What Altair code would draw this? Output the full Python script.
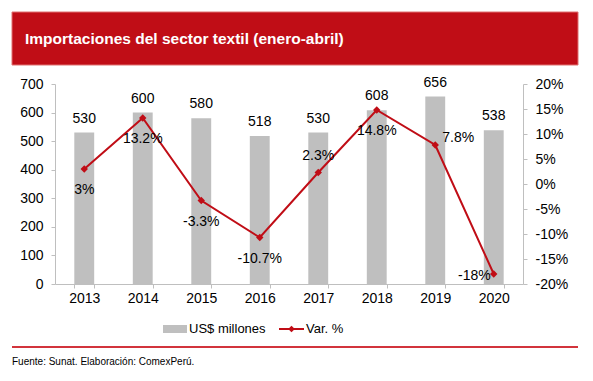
import altair as alt
import pandas as pd

years = ["2013", "2014", "2015", "2016", "2017", "2018", "2019", "2020"]
imports_musd = [530, 600, 580, 518, 530, 608, 656, 538]
var_pct = [3, 13.2, -3.3, -10.7, 2.3, 14.8, 7.8, -18]
var_labels = ["3%", "13.2%", "-3.3%", "-10.7%", "2.3%", "14.8%", "7.8%", "-18%"]
var_label_side = ["below", "below", "below", "below", "above", "below", "right", "left"]

title_text = "Importaciones del sector textil (enero-abril)"
source_text = "Fuente: Sunat. Elaboración: ComexPerú."
legend_bar = "US$ millones"
legend_line = "Var. %"

RED = "#c00d16"
GRAY = "#bfbfbf"
FONT = "Liberation Sans"

df = pd.DataFrame({
    "year": years,
    "imports": imports_musd,
    "var": var_pct,
    "var_label": var_labels,
    "side": var_label_side,
})

x = alt.X(
    "year:N",
    title=None,
    sort=years,
    scale=alt.Scale(paddingInner=0.66, paddingOuter=0.33),
    axis=alt.Axis(
        labelAngle=0, labelFontSize=14, labelColor="#000000", labelFont=FONT,
        domainColor="#bfbfbf", tickColor="#bfbfbf", tickSize=4, tickBand="extent",
        labelPadding=3,
    ),
)

y_left = alt.Y(
    "imports:Q",
    title=None,
    scale=alt.Scale(domain=[0, 700], nice=False),
    axis=alt.Axis(
        orient="left", values=list(range(0, 701, 100)), grid=False,
        labelFontSize=14, labelColor="#000000", labelFont=FONT,
        domainColor="#bfbfbf", tickColor="#bfbfbf", tickSize=4, labelPadding=8,
    ),
)

y_right = alt.Y(
    "var:Q",
    title=None,
    scale=alt.Scale(domain=[-20, 20], nice=False),
    axis=alt.Axis(
        orient="right", values=list(range(-20, 21, 5)), grid=False,
        labelExpr="datum.value + '%'",
        labelFontSize=14, labelColor="#000000", labelFont=FONT,
        domainColor="#bfbfbf", tickColor="#bfbfbf", tickSize=4, labelPadding=8,
    ),
)

base = alt.Chart(df)

bars = base.mark_bar(color=GRAY).encode(x=x, y=y_left)
bar_text = base.mark_text(dy=-14, fontSize=14, font=FONT, color="#000000", baseline="middle").encode(
    x=x, y=y_left, text="imports:Q"
)
left = alt.layer(bars, bar_text)

line = base.mark_line(color=RED, strokeWidth=2).encode(x=x, y=y_right)
pts = base.mark_point(shape="diamond", filled=True, color=RED, size=55, opacity=1).encode(x=x, y=y_right)

def vtext(side, **kw):
    return base.transform_filter(alt.datum.side == side).mark_text(
        fontSize=14, font=FONT, color="#000000", baseline="middle", **kw
    ).encode(x=x, y=y_right, text="var_label:N")

t_below = vtext("below", dy=21)
t_above = vtext("above", dy=-17)
t_right = vtext("right", align="left", dx=7, dy=-7)
t_left = vtext("left", align="right", dx=-3, dy=2)
right = alt.layer(line, pts, t_below, t_above, t_right, t_left)

# decorations (relative to plot origin at page (55, 84))
one = pd.DataFrame({"t": [title_text]})
banner = alt.Chart(one).mark_rect(color=RED, stroke="#e07070", strokeWidth=1).encode(
    x=alt.value(-43), x2=alt.value(523), y=alt.value(-72), y2=alt.value(-19)
)
title = alt.Chart(one).mark_text(
    color="white", fontSize=15.5, fontWeight="bold", font=FONT,
    align="left", baseline="middle",
).encode(x=alt.value(-30), y=alt.value(-45), text="t:N")

rule = alt.Chart(pd.DataFrame({"t": [source_text]})).mark_rule(color="#d2343c", strokeWidth=2).encode(
    x=alt.value(-43), x2=alt.value(523), y=alt.value(263)
)
src = alt.Chart(pd.DataFrame({"t": [source_text]})).mark_text(
    fontSize=10, font=FONT, color="#000000", align="left", baseline="middle"
).encode(x=alt.value(-43), y=alt.value(278), text="t:N")

leg_df = pd.DataFrame({"a": [legend_bar], "b": [legend_line]})
leg_rect = alt.Chart(leg_df).mark_rect(color=GRAY).encode(
    x=alt.value(108), x2=alt.value(132), y=alt.value(241), y2=alt.value(249)
)
leg_t1 = alt.Chart(leg_df).mark_text(
    fontSize=13, font=FONT, color="#000000", align="left", baseline="middle"
).encode(x=alt.value(134), y=alt.value(245), text="a:N")
leg_line = alt.Chart(leg_df).mark_rule(color=RED, strokeWidth=2).encode(
    x=alt.value(224), x2=alt.value(249), y=alt.value(245)
)
leg_pt = alt.Chart(leg_df).mark_point(shape="diamond", filled=True, color=RED, size=45, opacity=1).encode(
    x=alt.value(236.5), y=alt.value(245)
)
leg_t2 = alt.Chart(leg_df).mark_text(
    fontSize=13, font=FONT, color="#000000", align="left", baseline="middle"
).encode(x=alt.value(251), y=alt.value(245), text="b:N")

chart = alt.layer(
    left, right, banner, title, rule, src, leg_rect, leg_t1, leg_line, leg_pt, leg_t2
).resolve_scale(y="independent").properties(
    width=468, height=200,
    autosize=alt.AutoSizeParams(type="none"),
    padding={"left": 47, "top": 76, "right": 62, "bottom": 89},
    background="white",
).configure_view(stroke=None)

chart.save("out.html", embed_options={"renderer": "svg", "actions": False})
